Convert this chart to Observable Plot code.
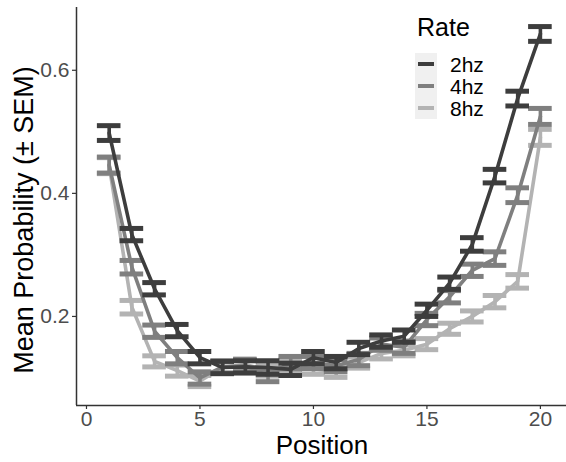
<!DOCTYPE html>
<html><head><meta charset="utf-8">
<script src="https://cdn.jsdelivr.net/npm/d3@7"></script>
<script src="https://cdn.jsdelivr.net/npm/@observablehq/plot@0.6"></script>
<style>
body{margin:0;background:#fff;font-family:"Liberation Sans",Arial,Helvetica,sans-serif}
#wrap{position:relative;width:566px;height:462px;overflow:hidden}
#wrap svg{position:absolute;left:0;top:0}
g[aria-label="x-axis tick label"] text, g[aria-label="y-axis tick label"] text{fill:#4d4d4d}
.ttl{position:absolute;color:#000;font-size:26px;white-space:nowrap;line-height:1}
#ytitle{left:24px;top:220px;font-size:27px;transform:translate(-50%,-50%) rotate(-90deg)}
#xtitle{left:322px;top:445px;transform:translate(-50%,-50%)}
#legend{position:absolute;left:415px;top:15px}
#legend .lt{font-size:25px;line-height:1;margin-left:2px;margin-bottom:13px}
#legend .row{display:flex;align-items:center;height:22px}
#legend .key{width:22px;height:22px;background:#f0f0f0;display:flex;align-items:center;justify-content:center}
#legend .key span{display:block;width:16px;height:4.5px}
#legend .lab{font-size:21px;margin-left:13px;line-height:1}
</style></head><body>
<div id="wrap"></div>
<script>
const positions = [1,2,3,4,5,6,7,8,9,10,11,12,13,14,15,16,17,18,19,20];
const rates = ["2hz","4hz","8hz"];
const mean2hz = [0.498,0.333,0.245,0.177,0.133,0.117,0.118,0.117,0.114,0.133,0.125,0.148,0.160,0.168,0.210,0.254,0.317,0.428,0.554,0.659];
const sem2hz  = [0.012,0.010,0.010,0.010,0.010,0.010,0.010,0.011,0.010,0.010,0.010,0.010,0.010,0.010,0.010,0.010,0.011,0.011,0.012,0.012];
const mean4hz = [0.446,0.280,0.176,0.133,0.100,0.118,0.120,0.104,0.125,0.125,0.120,0.130,0.155,0.150,0.195,0.232,0.275,0.294,0.397,0.525];
const sem4hz  = [0.013,0.011,0.010,0.010,0.010,0.010,0.010,0.010,0.010,0.010,0.010,0.010,0.010,0.010,0.010,0.010,0.010,0.011,0.012,0.013];
const mean8hz = [0.445,0.215,0.127,0.112,0.095,0.117,0.122,0.112,0.120,0.115,0.110,0.125,0.140,0.145,0.155,0.180,0.200,0.224,0.257,0.491];
const sem8hz  = [0.013,0.011,0.009,0.009,0.009,0.009,0.009,0.009,0.009,0.009,0.009,0.009,0.009,0.009,0.009,0.009,0.009,0.010,0.011,0.013];
const xTicks = [0,5,10,15,20];
const yTicks = [0.2,0.4,0.6];
const colors = ["#3d3d3d","#7f7f7f","#b3b3b3"];

const means = {"2hz":mean2hz,"4hz":mean4hz,"8hz":mean8hz};
const sems = {"2hz":sem2hz,"4hz":sem4hz,"8hz":sem8hz};
const data = [];
for (const r of rates) positions.forEach((p,j)=>data.push({rate:r,pos:p,mean:means[r][j],sem:sems[r][j]}));

const xDomain = [-0.44, 21.15];
const yDomain = [0.0553, 0.702];
const hw = 0.52;
const marks = [];
for (const r of ["8hz","4hz","2hz"]) {
  const d = data.filter(e=>e.rate===r);
  marks.push(Plot.line(d,{x:"pos",y:"mean",stroke:"rate",strokeWidth:3.6}));
  marks.push(Plot.ruleX(d,{x:"pos",y1:e=>e.mean-e.sem,y2:e=>e.mean+e.sem,stroke:"rate",strokeWidth:3.6}));
  marks.push(Plot.ruleY(d,{y:e=>e.mean+e.sem,x1:e=>e.pos-hw,x2:e=>e.pos+hw,stroke:"rate",strokeWidth:5}));
  marks.push(Plot.ruleY(d,{y:e=>e.mean-e.sem,x1:e=>e.pos-hw,x2:e=>e.pos+hw,stroke:"rate",strokeWidth:5}));
}

const chart = Plot.plot({
  width:566, height:462,
  marginLeft:76, marginRight:0, marginTop:7, marginBottom:57,
  style:{fontFamily:"'Liberation Sans', Arial, sans-serif", background:"transparent"},
  x:{domain:xDomain},
  y:{domain:yDomain},
  color:{domain:rates, range:colors},
  marks:[
    ...marks,
    Plot.axisX({ticks:xTicks, tickSize:4, tickPadding:2, fontSize:21, label:null, stroke:"#333", strokeWidth:1.2}),
    Plot.axisY({ticks:yTicks, tickFormat:d3.format(".1f"), tickSize:4, tickPadding:3, fontSize:21, label:null, stroke:"#333", strokeWidth:1.2}),
    Plot.ruleX([xDomain[0]],{stroke:"#333",strokeWidth:1.5}),
    Plot.ruleY([yDomain[0]],{stroke:"#333",strokeWidth:1.5})
  ]
});
const wrap = document.getElementById("wrap");
wrap.appendChild(chart);

const yt = document.createElement("div"); yt.className="ttl"; yt.id="ytitle"; yt.textContent="Mean Probability (± SEM)"; wrap.appendChild(yt);
const xt = document.createElement("div"); xt.className="ttl"; xt.id="xtitle"; xt.textContent="Position"; wrap.appendChild(xt);
const lg = document.createElement("div"); lg.id="legend";
let html = '<div class="lt">Rate</div>';
rates.forEach((r,i)=>{ html += `<div class="row"><div class="key"><span style="background:${colors[i]}"></span></div><div class="lab">${r}</div></div>`; });
lg.innerHTML = html; wrap.appendChild(lg);
</script>
</body></html>
